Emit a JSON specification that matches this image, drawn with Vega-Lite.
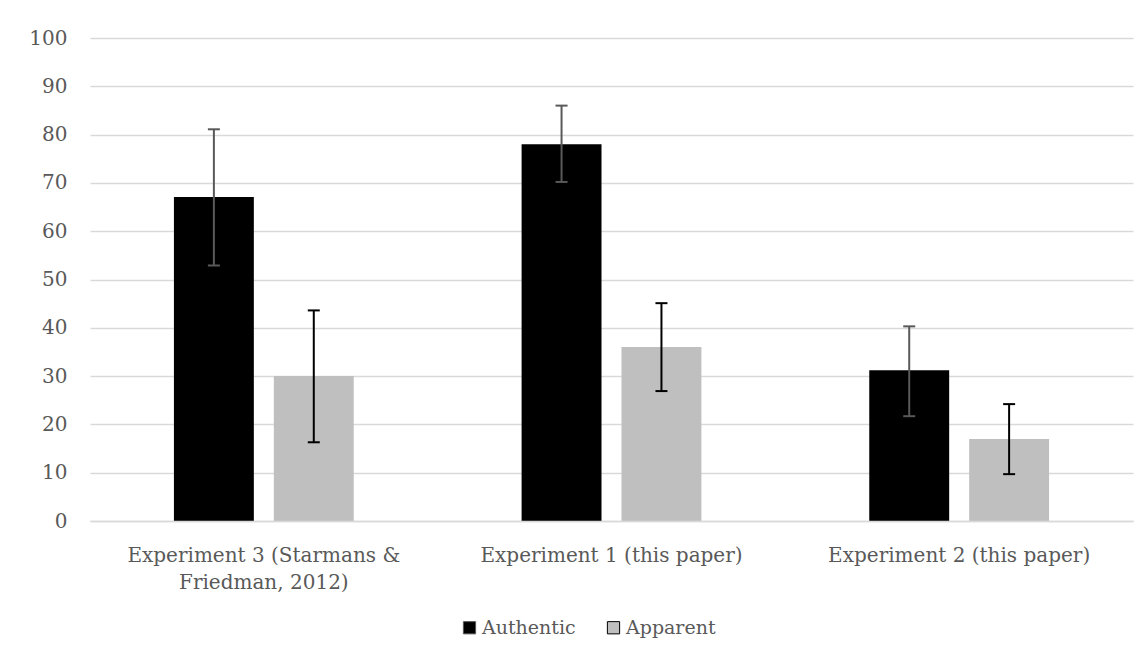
{
  "$schema": "https://vega.github.io/schema/vega-lite/v6.json",
  "width": 1043,
  "height": 483,
  "autosize": "none",
  "padding": {"left": 90, "top": 38, "right": 14, "bottom": 143},
  "background": "white",
  "config": {
    "view": {"stroke": null},
    "font": "DejaVu Serif",
    "axis": {"labelFont": "DejaVu Serif", "labelColor": "#595959"},
    "legend": {"labelFont": "DejaVu Serif", "labelColor": "#595959"}
  },
  "data": {
    "values": [
      {"experiment": "Experiment 3 (Starmans & Friedman, 2012)", "condition": "Authentic", "value": 67.1, "lo": 52.9, "hi": 81.1},
      {"experiment": "Experiment 3 (Starmans & Friedman, 2012)", "condition": "Apparent", "value": 30.0, "lo": 16.3, "hi": 43.6},
      {"experiment": "Experiment 1 (this paper)", "condition": "Authentic", "value": 78.0, "lo": 70.2, "hi": 86.0},
      {"experiment": "Experiment 1 (this paper)", "condition": "Apparent", "value": 36.0, "lo": 26.9, "hi": 45.1},
      {"experiment": "Experiment 2 (this paper)", "condition": "Authentic", "value": 31.2, "lo": 21.7, "hi": 40.3},
      {"experiment": "Experiment 2 (this paper)", "condition": "Apparent", "value": 17.0, "lo": 9.7, "hi": 24.2}
    ]
  },
  "encoding": {
    "x": {
      "field": "experiment",
      "type": "nominal",
      "sort": null,
      "scale": {"paddingInner": 0.4828, "paddingOuter": 0.2414},
      "axis": {
        "title": null,
        "labelAngle": 0,
        "labelFontSize": 20,
        "labelLimit": 0,
        "labelPadding": 24,
        "labelLineHeight": 27,
        "labelBaseline": "top",
        "ticks": false,
        "domain": true,
        "domainColor": "#d9d9d9",
        "domainWidth": 1.5,
        "zindex": 1,
        "labelExpr": "datum.value == 'Experiment 3 (Starmans & Friedman, 2012)' ? ['Experiment 3 (Starmans &', 'Friedman, 2012)'] : datum.label"
      }
    },
    "xOffset": {
      "field": "condition",
      "type": "nominal",
      "sort": ["Authentic", "Apparent"],
      "scale": {"paddingInner": 0.2, "paddingOuter": 0}
    }
  },
  "layer": [
    {
      "mark": {"type": "bar"},
      "encoding": {
        "y": {
          "field": "value",
          "type": "quantitative",
          "scale": {"domain": [0, 100], "nice": false},
          "axis": {
            "title": null,
            "values": [0, 10, 20, 30, 40, 50, 60, 70, 80, 90, 100],
            "labelFontSize": 20,
            "labelPadding": 23,
            "ticks": false,
            "domain": false,
            "gridColor": "#d9d9d9",
            "gridWidth": 1.5
          }
        },
        "color": {
          "field": "condition",
          "type": "nominal",
          "sort": ["Authentic", "Apparent"],
          "scale": {"domain": ["Authentic", "Apparent"], "range": ["#000000", "#bfbfbf"]},
          "legend": {
            "title": null,
            "orient": "none",
            "direction": "horizontal",
            "legendX": 370,
            "legendY": 580,
            "symbolType": "square",
            "symbolSize": 150,
            "symbolStrokeWidth": 1,
            "labelFontSize": 19,
            "labelOffset": 3,
            "columnPadding": 28
          }
        }
      }
    },
    {
      "mark": {"type": "rule", "strokeWidth": 2},
      "encoding": {
        "y": {"field": "lo", "type": "quantitative"},
        "y2": {"field": "hi"},
        "stroke": {
          "field": "condition",
          "type": "nominal",
          "scale": {"domain": ["Authentic", "Apparent"], "range": ["#595959", "#000000"]},
          "legend": null
        }
      }
    },
    {
      "mark": {"type": "tick", "size": 12, "thickness": 2, "opacity": 1},
      "encoding": {
        "y": {"field": "lo", "type": "quantitative"},
        "fill": {
          "field": "condition",
          "type": "nominal",
          "scale": {"domain": ["Authentic", "Apparent"], "range": ["#595959", "#000000"]},
          "legend": null
        }
      }
    },
    {
      "mark": {"type": "tick", "size": 12, "thickness": 2, "opacity": 1},
      "encoding": {
        "y": {"field": "hi", "type": "quantitative"},
        "fill": {
          "field": "condition",
          "type": "nominal",
          "scale": {"domain": ["Authentic", "Apparent"], "range": ["#595959", "#000000"]},
          "legend": null
        }
      }
    }
  ]
}
